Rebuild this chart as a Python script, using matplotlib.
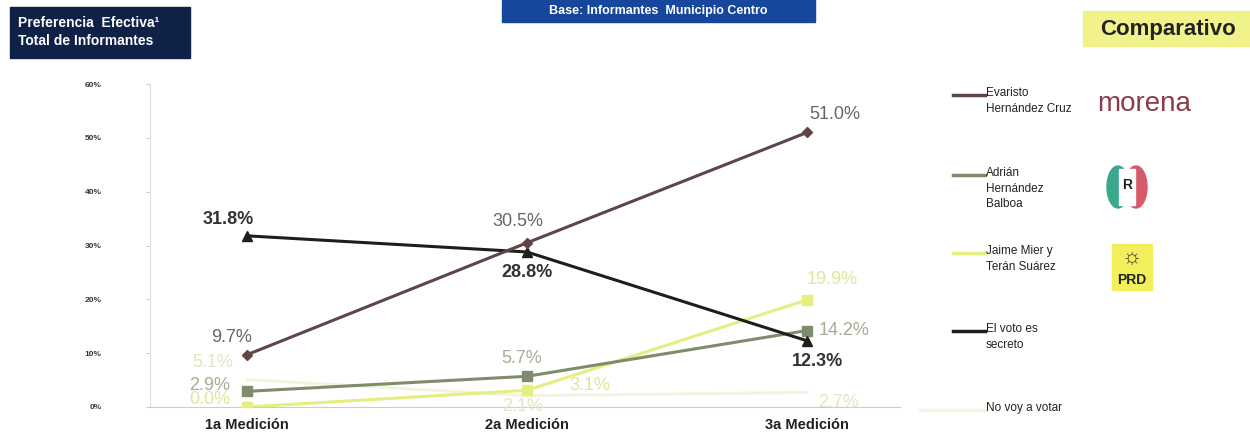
import matplotlib
matplotlib.use("Agg")
import matplotlib.pyplot as plt
from matplotlib.lines import Line2D
from matplotlib.patches import Rectangle, Ellipse

plt.rcParams['font.family'] = ['Liberation Sans', 'DejaVu Sans']

# datos
mediciones = ['1a Medición', '2a Medición', '3a Medición']
evaristo = [9.7, 30.5, 51.0]
adrian = [2.9, 5.7, 14.2]
jaime = [0.0, 3.1, 19.9]
voto_secreto = [31.8, 28.8, 12.3]
no_voy = [5.1, 2.1, 2.7]
yticks = [0, 10, 20, 30, 40, 50, 60]

nombres = ['Evaristo\nHernández Cruz', 'Adrián\nHernández\nBalboa',
           'Jaime Mier y\nTerán Suárez', 'El voto es\nsecreto', 'No voy a votar']

fig = plt.figure(figsize=(12.5, 4.37), dpi=100)
ax = fig.add_axes([0.12, 0.0687, 0.60, 0.739])

x = list(range(len(mediciones)))

# series: (valores, color linea, marcador, color etiqueta, negrita, offsets en pixeles)
series = [
    (no_voy, '#f3f3e2', None, '#e4e4c6', False, [(-34, 17), (-4, -11), (31, -10)]),
    (jaime, '#e6ee80', 's', '#e0e69c', False, [(-37, 7), (63, 5), (25, 20)]),
    (adrian, '#7f8c6c', 's', '#a6ad94', False, [(-37, 6), (-5, 18), (37, 0)]),
    (voto_secreto, '#1e1e1e', '^', '#333333', True, [(-19, 16), (0, -21), (10, -21)]),
    (evaristo, '#5e4646', 'D', '#666666', False, [(-15, 17), (-9, 21), (28, 18)]),
]

for vals, col, mk, lcol, bold, offs in series:
    ax.plot(x, vals, color=col, lw=2.2, marker=mk, markersize=7 if mk != 'D' else 5,
            markerfacecolor=col, markeredgecolor=col, zorder=3)
    for xi, v, (dx, dy) in zip(x, vals, offs):
        ax.annotate(f'{v:.1f}%', (xi, v), xytext=(dx, dy), textcoords='offset pixels',
                    ha='center', va='center', fontsize=13, color=lcol,
                    fontweight='bold' if bold else 'normal', zorder=4)

ax.set_xlim(-0.346, 2.332)
ax.set_ylim(0, 60)
ax.set_yticks(yticks)
ax.set_yticklabels([f'{t}%' for t in yticks], fontsize=6, fontweight='bold', color='#333333')
ax.tick_params(axis='y', length=3, pad=32, color='#cccccc')
ax.set_xticks(x)
ax.set_xticklabels(mediciones, fontsize=10.5, fontweight='bold', color='#222222')
ax.tick_params(axis='x', length=0, pad=8)
for s in ['top', 'right']:
    ax.spines[s].set_visible(False)
ax.spines['left'].set_color('#dddddd')
ax.spines['bottom'].set_color('#cccccc')

# leyenda manual
W, H = 1250, 437
leg_y = [95, 175, 253, 331, 410]
leg_x0 = [953, 953, 953, 953, 920]
leg_col = ['#5e4646', '#7f8c6c', '#e6ee80', '#1e1e1e', '#f3f3e2']
for yy, x0, col, nm in zip(leg_y, leg_x0, leg_col, nombres):
    fig.add_artist(Line2D([x0 / W, 985 / W], [1 - yy / H, 1 - yy / H], color=col, lw=2.5))
    fig.text(986 / W, 1 - (yy - 8) / H, nm, fontsize=8.5, va='top', ha='left',
             color='#222222', linespacing=1.4)

# logos aproximados
fig.text(1097 / W, 1 - 104 / H, 'morena', fontsize=20, color='#8b3c4c', va='center')
fig.add_artist(Ellipse((1118 / W, 1 - 187 / H), 22 / W, 42 / H, color='#3aa88c'))
fig.add_artist(Ellipse((1136 / W, 1 - 187 / H), 22 / W, 42 / H, color='#d65a6a'))
fig.add_artist(Rectangle((1119 / W, 1 - 205 / H), 16 / W, 36 / H, color='#ffffff'))
fig.text(1127 / W, 1 - 185 / H, 'R', fontsize=10, fontweight='bold', ha='center',
         va='center', color='#222222')
fig.add_artist(Rectangle((1112 / W, 1 - 290 / H), 40 / W, 46 / H, color='#f3ef5a'))
fig.text(1132 / W, 1 - 258 / H, '☼', fontsize=16, ha='center', va='center', color='#333333')
fig.text(1132 / W, 1 - 280 / H, 'PRD', fontsize=10, fontweight='bold', ha='center',
         va='center', color='#222222')

# encabezados
fig.add_artist(Rectangle((10 / W, 1 - 58 / H), 180 / W, 51 / H, color='#0f2147'))
fig.text(18 / W, 1 - 32 / H, 'Preferencia  Efectiva¹\nTotal de Informantes', fontsize=10,
         fontweight='bold', color='white', va='center', ha='left', linespacing=1.3)
fig.add_artist(Rectangle((502 / W, 1 - 22 / H), 313 / W, 22 / H, color='#17479c'))
fig.text(658 / W, 1 - 11 / H, 'Base: Informantes  Municipio Centro', fontsize=9,
         fontweight='bold', color='white', va='center', ha='center')
fig.add_artist(Rectangle((1083 / W, 1 - 46 / H), 167 / W, 35 / H, color='#f2f28a'))
fig.text(1168 / W, 1 - 29 / H, 'Comparativo', fontsize=16, fontweight='bold',
         color='#222222', va='center', ha='center')

fig.savefig('out.png', dpi=100)
